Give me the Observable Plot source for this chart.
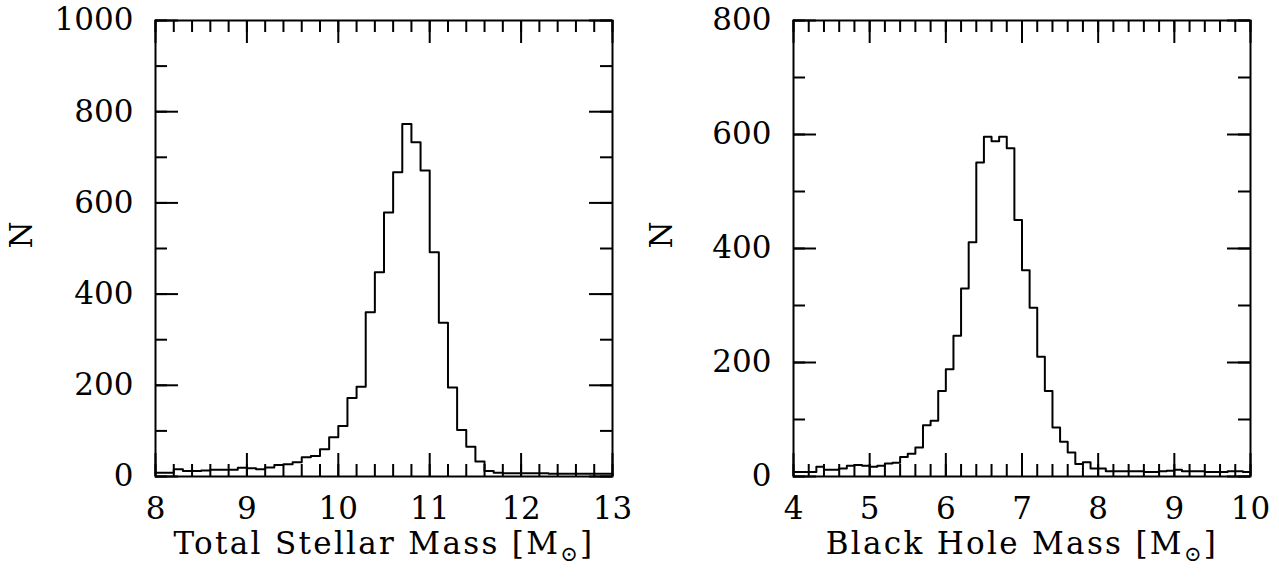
<!DOCTYPE html>
<html><head><meta charset="utf-8">
<script src="https://cdn.jsdelivr.net/npm/d3@7"></script>
<script src="https://cdn.jsdelivr.net/npm/@observablehq/plot@0.6"></script>
<style>
body{margin:0;background:#fff;}
#wrap{display:flex;width:1279px;height:578px;}
</style></head><body><div id="wrap"></div>
<script>
// ---- Left panel: Total stellar mass ----
const stellarDomain = [8, 13];
const stellarBinWidth = 0.1;
const stellarCounts = [
  8, 8, 16, 12, 12, 13, 15, 15, 15, 19,
  18, 16, 20, 25, 27, 31, 42, 45, 60, 86,
  111, 172, 197, 360, 448, 579, 667, 773, 733, 671,
  492, 337, 195, 102, 65, 33, 12, 8, 7, 7,
  7, 7, 7, 6, 6, 6, 6, 6, 6, 6
];
const stellarXTicks = [8, 9, 10, 11, 12, 13];
const stellarYTicks = [0, 200, 400, 600, 800, 1000];
const stellarYMax = 1000;
const stellarXLabel = "Total Stellar Mass [M⊙]";

// ---- Right panel: Black hole mass ----
const bhDomain = [4, 10];
const bhBinWidth = 0.1;
const bhCounts = [
  8, 8, 8, 17, 12, 12, 14, 19, 20, 19,
  17, 19, 23, 24, 34, 40, 51, 90, 98, 150,
  188, 247, 330, 411, 551, 596, 588, 596, 576, 450,
  362, 296, 210, 150, 86, 61, 42, 22, 25, 14,
  14, 9, 9, 9, 9, 9, 8, 8, 9, 10,
  12, 9, 9, 9, 8, 8, 8, 9, 9, 8
];
const bhXTicks = [4, 5, 6, 7, 8, 9, 10];
const bhYTicks = [0, 200, 400, 600, 800];
const bhYMax = 800;
const bhXLabel = "Black Hole Mass [M⊙]";

const yLabel = "N";
const FONT = "DejaVu Serif";
const FS = 31;

function panel({counts, xDomain, binWidth, xTicks, yTicks, yMax, xLabel, width, marginLeft, marginRight}) {
  const height = 578, marginTop = 20, marginBottom = 102;
  const ph = height - marginTop - marginBottom;
  const pw = width - marginLeft - marginRight;
  const pts = counts.map((c, i) => ({x: xDomain[0] + i * binWidth, y: c}));
  pts.push({x: xDomain[0] + counts.length * binWidth, y: counts[counts.length - 1]});
  const xMinor = d3.range(xDomain[0], xDomain[1] + 1e-9, 0.2);
  const yMinor = d3.range(0, yMax + 1e-9, 100);
  const major = 23, minor = 12, sw = 2;
  const svg = Plot.plot({
    width, height, marginTop, marginBottom, marginLeft, marginRight,
    style: {fontFamily: FONT, fontSize: FS + "px", color: "black", background: "white"},
    x: {domain: xDomain, label: null},
    y: {domain: [0, yMax], label: null},
    marks: [
      Plot.tickX(xMinor, {x: d => d, insetTop: ph - minor, strokeWidth: sw}),
      Plot.tickX(xTicks, {x: d => d, insetTop: ph - major, strokeWidth: sw}),
      Plot.tickX(xMinor, {x: d => d, insetBottom: ph - minor, strokeWidth: sw}),
      Plot.tickX(xTicks, {x: d => d, insetBottom: ph - major, strokeWidth: sw}),
      Plot.tickY(yMinor, {y: d => d, insetRight: pw - minor, strokeWidth: sw}),
      Plot.tickY(yTicks, {y: d => d, insetRight: pw - major, strokeWidth: sw}),
      Plot.tickY(yMinor, {y: d => d, insetLeft: pw - minor, strokeWidth: sw}),
      Plot.tickY(yTicks, {y: d => d, insetLeft: pw - major, strokeWidth: sw}),
      Plot.line(pts, {x: "x", y: "y", curve: "step-after", stroke: "black", strokeWidth: 2}),
      Plot.frame({stroke: "black", strokeWidth: 2}),
      Plot.axisX({ticks: xTicks, tickSize: 0, tickPadding: 20, fontSize: FS, label: null, tickFormat: d => String(d)}),
      Plot.axisY({ticks: yTicks, tickSize: 0, tickPadding: 22, fontSize: FS, label: null, tickFormat: d => String(d)}),
      Plot.text([xLabel], {text: d => d, frameAnchor: "bottom", dy: 77, lineAnchor: "bottom", fontSize: FS}),
      Plot.text([yLabel], {text: d => d, frameAnchor: "left", dx: -(marginLeft - 22), rotate: -90, fontSize: FS})
    ]
  });
  const NS = "http://www.w3.org/2000/svg";
  svg.querySelectorAll("text").forEach(t => {
    if (t.children.length === 0 && t.textContent.includes("⊙")) {
      const [pre, post] = t.textContent.split("⊙");
      t.textContent = "";
      t.setAttribute("letter-spacing", "2.3");
      t.appendChild(document.createTextNode(pre));
      const s = document.createElementNS(NS, "tspan");
      s.setAttribute("font-size", "21");
      s.setAttribute("dy", "7");
      s.textContent = "⊙";
      const s2 = document.createElementNS(NS, "tspan");
      s2.setAttribute("dy", "-7");
      s2.textContent = post;
      t.appendChild(s);
      t.appendChild(s2);
    }
  });
  return svg;
}

const wrap = document.getElementById("wrap");
wrap.appendChild(panel({counts: stellarCounts, xDomain: stellarDomain, binWidth: stellarBinWidth,
  xTicks: stellarXTicks, yTicks: stellarYTicks, yMax: stellarYMax, xLabel: stellarXLabel,
  width: 640, marginLeft: 155, marginRight: 28}));
wrap.appendChild(panel({counts: bhCounts, xDomain: bhDomain, binWidth: bhBinWidth,
  xTicks: bhXTicks, yTicks: bhYTicks, yMax: bhYMax, xLabel: bhXLabel,
  width: 639, marginLeft: 153, marginRight: 29}));
</script></body></html>
